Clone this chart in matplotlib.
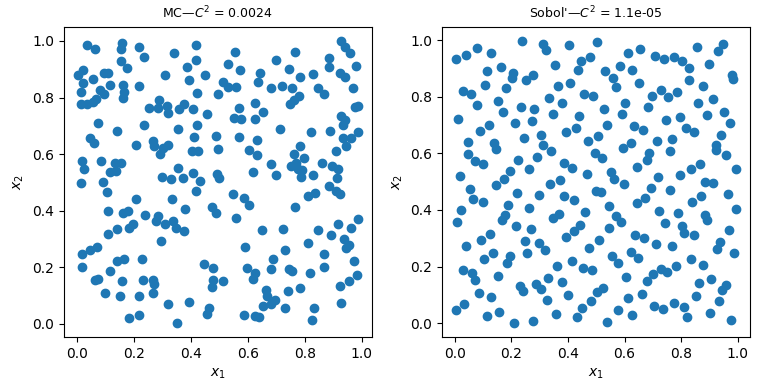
"""Scatter of 2-D sample points: plain Monte Carlo vs a Sobol' sequence"""
import matplotlib
matplotlib.use('Agg')
import matplotlib.pyplot as plt

# values
mc_x = [
    0.037, 0.064, 0.158, 0.154, 0.218, 0.237, 0.342, 0.418, 0.154, 0.175,
    0.418, 0.386, 0.023, 0.004, 0.056, 0.096, 0.109, 0.021, 0.116, 0.164,
    0.218, 0.309, 0.393, 0.449, 0.014, 0.082, 0.096, 0.166, 0.161, 0.421,
    0.495, 0.014, 0.037, 0.056, 0.067, 0.253, 0.288, 0.287, 0.318, 0.321,
    0.358, 0.377, 0.407, 0.456, 0.074, 0.140, 0.235, 0.354, 0.421, 0.411,
    0.490, 0.047, 0.061, 0.207, 0.269, 0.271, 0.294, 0.304, 0.322, 0.404,
    0.425, 0.495, 0.018, 0.026, 0.084, 0.135, 0.154, 0.117, 0.138, 0.354,
    0.298, 0.330, 0.372, 0.408, 0.433, 0.493, 0.498, 0.014, 0.091,
    0.926, 0.940, 0.958, 0.554, 0.765, 0.701, 0.884, 0.530, 0.574, 0.642,
    0.746, 0.884, 0.980, 0.782, 0.828, 0.922, 0.940, 0.512, 0.530, 0.559,
    0.635, 0.683, 0.719, 0.754, 0.846, 0.867, 0.968, 0.779, 0.764, 0.750,
    0.625, 0.568, 0.551, 0.575, 0.625, 0.653, 0.975, 0.987, 0.926, 0.940,
    0.933, 0.712, 0.823, 0.888, 0.986, 0.568, 0.632, 0.936, 0.964, 0.944,
    0.604, 0.632, 0.782, 0.761, 0.796, 0.909, 0.682, 0.751, 0.770, 0.775,
    0.792, 0.860, 0.896, 0.917, 0.619, 0.701, 0.828, 0.786, 0.913,
    0.105, 0.207, 0.333, 0.418, 0.474, 0.488, 0.109, 0.164, 0.179, 0.239,
    0.284, 0.277, 0.310, 0.339, 0.349, 0.379, 0.375, 0.199, 0.184, 0.140,
    0.109, 0.297, 0.019, 0.047, 0.071, 0.018, 0.143, 0.166, 0.228, 0.116,
    0.064, 0.075, 0.158, 0.234, 0.269, 0.270, 0.098, 0.152, 0.219, 0.267,
    0.319, 0.395, 0.446, 0.477, 0.477, 0.474, 0.463, 0.456, 0.184, 0.218,
    0.351,
    0.884, 0.911, 0.922, 0.547, 0.586, 0.604, 0.811, 0.835, 0.767, 0.558,
    0.649, 0.723, 0.846, 0.916, 0.987, 0.964, 0.891, 0.811, 0.937, 0.954,
    0.944, 0.592, 0.730, 0.867, 0.972, 0.688, 0.596, 0.625, 0.619, 0.681,
    0.744, 0.756, 0.818, 0.867, 0.982, 0.954, 0.923, 0.512, 0.665, 0.668,
    0.697, 0.681, 0.654, 0.740, 0.782, 0.732, 0.834, 0.827, 0.929, 0.586,
    0.627, 0.639,
]
mc_y = [
    0.986, 0.973, 0.992, 0.973, 0.978, 0.945, 0.957, 0.985, 0.930, 0.904,
    0.933, 0.907, 0.898, 0.879, 0.865, 0.886, 0.886, 0.851, 0.846, 0.844,
    0.840, 0.879, 0.863, 0.879, 0.818, 0.827, 0.812, 0.820, 0.799, 0.816,
    0.812, 0.776, 0.776, 0.785, 0.795, 0.763, 0.790, 0.763, 0.771, 0.745,
    0.759, 0.778, 0.759, 0.742, 0.710, 0.682, 0.704, 0.687, 0.703, 0.662,
    0.665, 0.658, 0.640, 0.633, 0.646, 0.630, 0.601, 0.621, 0.633, 0.611,
    0.611, 0.619, 0.574, 0.548, 0.574, 0.568, 0.568, 0.536, 0.539, 0.552,
    0.519, 0.511, 0.516, 0.532, 0.504, 0.531, 0.515, 0.499, 0.501,
    1.000, 0.977, 0.959, 0.961, 0.961, 0.932, 0.940, 0.918, 0.898, 0.886,
    0.900, 0.907, 0.912, 0.873, 0.883, 0.886, 0.871, 0.856, 0.838, 0.838,
    0.856, 0.835, 0.842, 0.835, 0.832, 0.812, 0.835, 0.806, 0.792, 0.777,
    0.781, 0.762, 0.729, 0.724, 0.724, 0.749, 0.765, 0.771, 0.736, 0.722,
    0.703, 0.690, 0.678, 0.682, 0.678, 0.662, 0.650, 0.658, 0.658, 0.627,
    0.615, 0.595, 0.630, 0.599, 0.587, 0.611, 0.563, 0.556, 0.568, 0.548,
    0.542, 0.570, 0.558, 0.548, 0.536, 0.525, 0.527, 0.519, 0.516,
    0.464, 0.442, 0.442, 0.468, 0.411, 0.393, 0.397, 0.390, 0.399, 0.386,
    0.381, 0.362, 0.351, 0.362, 0.337, 0.404, 0.327, 0.354, 0.337, 0.333,
    0.317, 0.292, 0.246, 0.261, 0.270, 0.200, 0.221, 0.228, 0.228, 0.187,
    0.155, 0.157, 0.151, 0.154, 0.155, 0.141, 0.108, 0.099, 0.099, 0.108,
    0.069, 0.076, 0.211, 0.197, 0.155, 0.129, 0.055, 0.034, 0.020, 0.031,
    0.002,
    0.486, 0.468, 0.460, 0.458, 0.446, 0.418, 0.451, 0.462, 0.411, 0.373,
    0.331, 0.333, 0.330, 0.351, 0.369, 0.337, 0.312, 0.284, 0.298, 0.278,
    0.266, 0.270, 0.261, 0.245, 0.221, 0.228, 0.196, 0.178, 0.157, 0.192,
    0.192, 0.187, 0.178, 0.200, 0.171, 0.151, 0.133, 0.151, 0.120, 0.099,
    0.085, 0.070, 0.063, 0.116, 0.126, 0.056, 0.056, 0.014, 0.073, 0.032,
    0.028, 0.023,
]

sobol_x = [
    0.237, 0.312, 0.322, 0.402, 0.501, 0.077, 0.038, 0.004, 0.127, 0.354,
    0.446, 0.478, 0.434, 0.113, 0.163, 0.204, 0.201, 0.275, 0.251, 0.106,
    0.181, 0.365, 0.407, 0.027, 0.057, 0.077, 0.153, 0.333, 0.380, 0.457,
    0.487, 0.234, 0.280, 0.170, 0.348, 0.011, 0.120, 0.088, 0.212, 0.271,
    0.439, 0.428, 0.392, 0.046, 0.137, 0.145, 0.244, 0.303, 0.313, 0.339,
    0.470, 0.505, 0.046, 0.071, 0.099, 0.223, 0.290, 0.386, 0.414, 0.495,
    0.262, 0.195, 0.173, 0.019, 0.467, 0.372,
    0.656, 0.612, 0.707, 0.740, 0.775, 0.804, 0.826, 0.857, 0.931, 0.949,
    0.899, 0.584, 0.627, 0.531, 0.559, 0.571, 0.651, 0.828, 0.877, 0.981,
    0.984, 0.697, 0.729, 0.755, 0.787, 0.602, 0.683, 0.860, 0.913, 0.527,
    0.592, 0.892, 0.952, 0.747, 0.795, 0.538, 0.632, 0.665, 0.818, 0.846,
    0.973, 0.942, 0.714, 0.768, 0.623, 0.595, 0.687, 0.680, 0.761, 0.922,
    0.922, 0.959, 0.520, 0.644, 0.552, 0.564, 0.719, 0.796, 0.835, 0.867,
    0.995,
    0.053, 0.145, 0.336, 0.064, 0.099, 0.219, 0.297, 0.386, 0.421, 0.021,
    0.009, 0.188, 0.262, 0.177, 0.165, 0.348, 0.367, 0.460, 0.442, 0.421,
    0.217, 0.268, 0.124, 0.092, 0.038, 0.248, 0.297, 0.319, 0.393, 0.473,
    0.135, 0.103, 0.195, 0.185, 0.255, 0.414, 0.361, 0.453, 0.485, 0.027,
    0.060, 0.071, 0.153, 0.329, 0.379, 0.229, 0.240, 0.288, 0.304, 0.086,
    0.127, 0.326, 0.399, 0.481, 0.450, 0.432, 0.358, 0.032, 0.004, 0.113,
    0.156, 0.209, 0.276,
    0.598, 0.694, 0.761, 0.884, 0.913, 0.500, 0.517, 0.544, 0.644, 0.673,
    0.722, 0.742, 0.789, 0.802, 0.809, 0.845, 0.839, 0.871, 0.884, 0.892,
    0.966, 0.995, 0.570, 0.588, 0.545, 0.509, 0.637, 0.669, 0.712, 0.768,
    0.938, 0.927, 0.970, 0.988, 0.621, 0.648, 0.556, 0.576, 0.835, 0.878,
    0.782, 0.730, 0.750, 0.701, 0.680, 0.605, 0.524, 0.503, 0.863, 0.905,
    0.945, 0.959, 0.853, 0.935, 0.662, 0.612, 0.576, 0.627, 0.538, 0.704,
    0.736, 0.775, 0.809, 0.821, 0.903, 0.976,
]
sobol_y = [
    0.998, 0.989, 0.966, 0.983, 0.993, 0.972, 0.950, 0.934, 0.957, 0.913,
    0.928, 0.942, 0.897, 0.891, 0.905, 0.885, 0.868, 0.876, 0.859, 0.844,
    0.830, 0.838, 0.851, 0.820, 0.809, 0.771, 0.787, 0.797, 0.777, 0.812,
    0.803, 0.764, 0.757, 0.747, 0.741, 0.721, 0.700, 0.681, 0.707, 0.716,
    0.732, 0.691, 0.675, 0.639, 0.636, 0.617, 0.656, 0.664, 0.629, 0.610,
    0.645, 0.661, 0.597, 0.572, 0.561, 0.578, 0.586, 0.565, 0.548, 0.603,
    0.544, 0.537, 0.511, 0.521, 0.528, 0.505,
    0.969, 0.954, 0.946, 0.934, 0.940, 0.927, 0.901, 0.975, 0.962, 0.986,
    0.918, 0.910, 0.895, 0.891, 0.868, 0.835, 0.851, 0.859, 0.840, 0.879,
    0.863, 0.805, 0.823, 0.799, 0.816, 0.779, 0.766, 0.777, 0.791, 0.757,
    0.741, 0.735, 0.747, 0.720, 0.728, 0.702, 0.697, 0.684, 0.689, 0.677,
    0.709, 0.667, 0.645, 0.652, 0.638, 0.619, 0.600, 0.576, 0.608, 0.629,
    0.611, 0.593, 0.584, 0.553, 0.533, 0.508, 0.517, 0.525, 0.546, 0.564,
    0.544,
    0.475, 0.487, 0.493, 0.440, 0.428, 0.461, 0.454, 0.448, 0.436, 0.401,
    0.359, 0.418, 0.408, 0.381, 0.363, 0.372, 0.387, 0.392, 0.348, 0.324,
    0.342, 0.333, 0.316, 0.294, 0.274, 0.291, 0.284, 0.260, 0.306, 0.266,
    0.248, 0.227, 0.238, 0.212, 0.247, 0.221, 0.203, 0.195, 0.186, 0.189,
    0.178, 0.152, 0.167, 0.160, 0.145, 0.131, 0.115, 0.138, 0.121, 0.108,
    0.093, 0.083, 0.099, 0.079, 0.053, 0.020, 0.032, 0.067, 0.047, 0.026,
    0.038, 0.000, 0.008,
    0.491, 0.479, 0.472, 0.499, 0.495, 0.467, 0.463, 0.415, 0.423, 0.443,
    0.396, 0.355, 0.390, 0.345, 0.319, 0.310, 0.428, 0.450, 0.383, 0.365,
    0.457, 0.405, 0.377, 0.359, 0.337, 0.294, 0.312, 0.301, 0.280, 0.271,
    0.288, 0.262, 0.330, 0.248, 0.253, 0.230, 0.238, 0.214, 0.225, 0.207,
    0.203, 0.191, 0.182, 0.174, 0.150, 0.163, 0.124, 0.111, 0.142, 0.157,
    0.117, 0.135, 0.096, 0.079, 0.103, 0.090, 0.047, 0.028, 0.004, 0.060,
    0.051, 0.071, 0.058, 0.022, 0.035, 0.012,
]

titles = ["MC\u2014$C^2$ = 0.0024", "Sobol'\u2014$C^2$ = 1.1e-05"]


def plot():
    """Draw both panels"""
    fig, axes = plt.subplots(1, 2, figsize=(7.68, 3.84), dpi=100)
    for ax, xs, ys, title in zip(axes, [mc_x, sobol_x], [mc_y, sobol_y], titles):
        ax.scatter(xs, ys)
        ax.set_title(title, fontsize=9)
        ax.set_xlabel('$x_1$')
        ax.set_ylabel('$x_2$')
    fig.subplots_adjust(left=0.083, right=0.977, bottom=0.122, top=0.93, wspace=0.227)
    fig.savefig('out.png')


plot()
